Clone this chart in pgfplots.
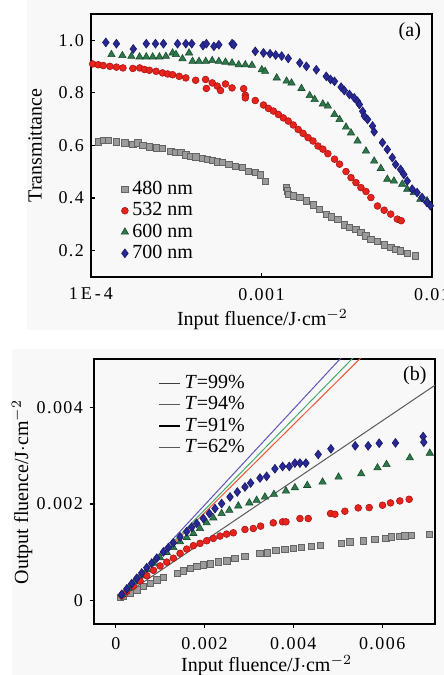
\documentclass[border=0pt]{standalone}
\usepackage{fontspec}
\setmainfont{Liberation Serif}
\newfontfamily\tickfont[LetterSpace=8]{Liberation Serif}
\usepackage{pgfplots}
\pgfplotsset{compat=1.18}

\definecolor{gfill}{RGB}{155,155,155}
\definecolor{gedge}{RGB}{100,100,100}
\definecolor{rfill}{RGB}{232,35,28}
\definecolor{redge}{RGB}{170,20,20}
\definecolor{tfill}{RGB}{46,120,75}
\definecolor{tedge}{RGB}{25,75,45}
\definecolor{bfill}{RGB}{40,40,150}
\definecolor{bedge}{RGB}{25,25,100}
\definecolor{lblue}{RGB}{95,85,185}
\definecolor{lgreen}{RGB}{70,170,110}
\definecolor{lred}{RGB}{240,85,55}
\definecolor{lgray}{RGB}{90,90,90}
\definecolor{pagebg}{RGB}{248,248,248}

\pgfplotsset{
  s480/.style={only marks,mark=square*,mark size=1.6pt,fill=gfill,draw=gedge,line width=0.3pt},
  s532/.style={only marks,mark=*,mark size=1.7pt,fill=rfill,draw=redge,line width=0.3pt},
  s600/.style={only marks,mark=triangle*,mark size=2.1pt,fill=tfill,draw=tedge,line width=0.3pt},
  s700/.style={only marks,mark=diamond*,mark size=2.2pt,fill=bfill,draw=bedge,line width=0.3pt},
  panel/.style={
    scale only axis,width=170.5pt,
    axis line style={line width=0.7pt},
    tick pos=left,major tick length=2pt,
    scaled ticks=false,minor tick num=0,
    tick style={line width=0.6pt,black},
    tick label style={font=\fontsize{9}{10}\tickfont},
    label style={font=\fontsize{10}{11}\selectfont},
    legend style={draw=none,fill=none,font=\fontsize{10}{11}\selectfont,
      nodes={inner xsep=1.9pt,inner ysep=0.6pt},row sep=1.3pt},
    legend cell align=left,
  }
}

\begin{document}
\begin{tikzpicture}
\path[use as bounding box] (0,0) rectangle (222pt,337.5pt);
\fill[pagebg] (13.5pt,172.5pt) rectangle (222pt,337.5pt);
\fill[pagebg] (6pt,0pt) rectangle (222pt,163pt);

% (a) transmittance versus input fluence
\begin{axis}[panel,
    at={(45.5pt,199pt)},anchor=south west,height=131.5pt,
    xmode=log,xmin=1e-4,xmax=1e-2,ymin=0.1,ymax=1.1,
    xminorticks=false,
    tick align=inside,
    xtick={1e-4,1e-3,1e-2},xticklabels={1\,E\,-\,4,0.001,0.01},
    xticklabel style={yshift=-2pt},
    ytick={0.2,0.4,0.6,0.8,1.0},
    yticklabels={0.2,0.4,0.6,0.8,1.0},
    xlabel={Input fluence/J$\cdot$cm$^{-2}$},
    ylabel={Transmittance},
    xlabel style={at={(axis description cs:0.503,-0.163)},anchor=center},
    ylabel style={at={(axis description cs:-0.164,0.5)},anchor=center},
    legend style={at={(0.07,0.385)},anchor=north west},
]
\addplot[s480] coordinates {
(1.103e-4,0.614) (1.18e-4,0.619) (1.261e-4,0.619) (1.41e-4,0.614) (1.577e-4,0.611)
(1.76e-4,0.604) (1.884e-4,0.611) (2.01e-4,0.600) (2.20e-4,0.595) (2.41e-4,0.592)
(2.63e-4,0.589) (2.94e-4,0.579) (3.15e-4,0.575) (3.37e-4,0.573) (3.60e-4,0.564)
(3.85e-4,0.560) (4.11e-4,0.557) (4.50e-4,0.551) (4.81e-4,0.547) (5.14e-4,0.543)
(5.50e-4,0.538) (5.88e-4,0.535) (6.43e-4,0.528) (7.03e-4,0.522) (7.69e-4,0.516)
(8.40e-4,0.503) (9.19e-4,0.497) (9.82e-4,0.488) (1.05e-3,0.465) (1.40e-3,0.442)
(1.42e-3,0.427) (1.435e-3,0.414) (1.535e-3,0.408) (1.678e-3,0.402) (1.834e-3,0.389)
(2.005e-3,0.374) (2.19e-3,0.357) (2.398e-3,0.339) (2.56e-3,0.329) (2.80e-3,0.320)
(3.06e-3,0.298) (3.28e-3,0.288) (3.58e-3,0.282) (3.83e-3,0.269) (4.10e-3,0.257)
(4.38e-3,0.244) (4.79e-3,0.235) (5.24e-3,0.222) (5.73e-3,0.212) (6.12e-3,0.206)
(6.54e-3,0.200) (7.16e-3,0.191) (8.0e-3,0.181)
};
\addlegendentry{480 nm}
\addplot[s532] coordinates {
(1.022e-4,0.910) (1.103e-4,0.907) (1.18e-4,0.904) (1.29e-4,0.901) (1.41e-4,0.898)
(1.54e-4,0.895) (1.76e-4,0.893) (1.93e-4,0.895) (2.06e-4,0.889) (2.20e-4,0.886)
(2.41e-4,0.882) (2.63e-4,0.876) (2.82e-4,0.872) (3.01e-4,0.869) (3.29e-4,0.863)
(3.60e-4,0.857) (4.11e-4,0.848) (4.70e-4,0.851) (4.75e-4,0.817) (5.14e-4,0.838)
(5.50e-4,0.826) (5.75e-4,0.809) (6.15e-4,0.834) (6.72e-4,0.819) (7.86e-4,0.816)
(8.04e-4,0.791) (8.04e-4,0.781) (9.19e-4,0.771) (1.027e-3,0.754) (1.098e-3,0.741)
(1.174e-3,0.731) (1.256e-3,0.718) (1.343e-3,0.705) (1.435e-3,0.693) (1.535e-3,0.678)
(1.641e-3,0.661) (1.754e-3,0.646) (1.876e-3,0.630) (2.005e-3,0.617) (2.144e-3,0.598)
(2.29e-3,0.586) (2.45e-3,0.569) (2.68e-3,0.548) (2.87e-3,0.529) (3.13e-3,0.501)
(3.35e-3,0.478) (3.58e-3,0.459) (3.83e-3,0.440) (4.10e-3,0.425) (4.38e-3,0.402)
(4.79e-3,0.370) (5.24e-3,0.354) (5.73e-3,0.339) (6.26e-3,0.320) (6.60e-3,0.314)
};
\addlegendentry{532 nm}
\addplot[s600] coordinates {
(1.318e-4,0.946) (1.528e-4,0.942) (1.724e-4,0.939) (1.927e-4,0.937) (2.11e-4,0.937)
(2.30e-4,0.937) (2.52e-4,0.937) (2.75e-4,0.939) (3.01e-4,0.952) (3.15e-4,0.946)
(3.44e-4,0.930) (3.76e-4,0.952) (3.94e-4,0.920) (4.30e-4,0.920) (4.71e-4,0.920)
(5.14e-4,0.923) (5.62e-4,0.920) (6.15e-4,0.917) (6.72e-4,0.914) (7.35e-4,0.907)
(8.04e-4,0.907) (8.79e-4,0.905) (1.004e-3,0.888) (1.05e-3,0.882) (1.228e-3,0.857)
(1.403e-3,0.845) (1.50e-3,0.838) (1.716e-3,0.817) (1.918e-3,0.790) (2.05e-3,0.775)
(2.29e-3,0.758) (2.45e-3,0.750) (2.68e-3,0.718) (2.87e-3,0.699) (3.13e-3,0.670)
(3.35e-3,0.648) (3.66e-3,0.617) (4.10e-3,0.579) (4.58e-3,0.541) (5.01e-3,0.513)
(5.47e-3,0.472) (5.98e-3,0.465) (6.69e-3,0.453) (7.16e-3,0.434) (7.82e-3,0.421)
(8.55e-3,0.396) (9.35e-3,0.390)
};
\addlegendentry{600 nm}
\addplot[s700] coordinates {
(1.222e-4,0.992) (1.41e-4,0.987) (1.77e-4,0.967) (2.11e-4,0.987) (2.39e-4,0.987)
(2.66e-4,0.987) (3.22e-4,0.987) (3.60e-4,0.987) (3.90e-4,0.987) (4.54e-4,0.980)
(4.75e-4,0.987) (5.26e-4,0.977) (5.62e-4,0.983) (6.72e-4,0.987) (6.88e-4,0.983)
(9.19e-4,0.958) (1.027e-3,0.952) (1.122e-3,0.949) (1.211e-3,0.944) (1.313e-3,0.940)
(1.435e-3,0.931) (1.678e-3,0.914) (1.834e-3,0.901) (2.097e-3,0.888) (2.398e-3,0.863)
(2.541e-3,0.851) (2.68e-3,0.844) (2.93e-3,0.822) (3.06e-3,0.809) (3.28e-3,0.794)
(3.50e-3,0.781) (3.66e-3,0.768) (3.75e-3,0.756) (3.92e-3,0.730) (4.01e-3,0.712)
(4.19e-3,0.699) (4.48e-3,0.674) (4.58e-3,0.652) (5.12e-3,0.611) (5.47e-3,0.585)
(5.85e-3,0.554) (6.12e-3,0.528) (6.54e-3,0.509) (6.84e-3,0.490) (7.16e-3,0.465)
(7.65e-3,0.434) (8.18e-3,0.421) (8.75e-3,0.402) (9.35e-3,0.383) (9.78e-3,0.371)
};
\addlegendentry{700 nm}
\node[font=\fontsize{10}{11}\selectfont] at (rel axis cs:0.935,0.932) {(a)};
\end{axis}

% (b) output fluence versus input fluence
\begin{axis}[panel,
    at={(47pt,25.5pt)},anchor=south west,height=132.5pt,
    xmin=-0.00049,xmax=0.00719,ymin=-0.00048,ymax=0.005,
    tick align=outside,
    xtick={0,0.002,0.004,0.006},xticklabels={0,0.002,0.004,0.006},
    xticklabel style={yshift=-1.3pt},
    ytick={0,0.002,0.004},yticklabels={0,0.002,0.004},
    xlabel={Input fluence/J$\cdot$cm$^{-2}$},
    ylabel={Output fluence/J$\cdot$cm$^{-2}$},
    xlabel style={at={(axis description cs:0.506,-0.156)},anchor=center},
    ylabel style={at={(axis description cs:-0.211,0.498)},anchor=center},
    legend style={at={(0.17,0.96)},anchor=north west},
    legend image code/.code={\draw[#1] (0cm,0cm) -- (0.37cm,0cm);},
]
\addlegendimage{lgray!70!black,line width=0.7pt}
\addlegendentry{\textit{T}=99\%}
\addlegendimage{lgray,line width=0.6pt}
\addlegendentry{\textit{T}=94\%}
\addlegendimage{black,line width=0.7pt}
\addlegendentry{\textit{T}=91\%}
\addlegendimage{lgray,line width=0.6pt}
\addlegendentry{\textit{T}=62\%}
\addplot[lblue,line width=0.5pt,forget plot] coordinates {(0.0001,0.000099) (0.0055,0.005445)};
\addplot[lgreen,line width=0.5pt,forget plot] coordinates {(0.0001,0.000094) (0.0058,0.005452)};
\addplot[lred,line width=0.5pt,forget plot] coordinates {(0.0001,0.000091) (0.0060,0.00546)};
\addplot[lgray,line width=0.5pt,forget plot] coordinates {(0.0001,0.000062) (0.0075,0.00465)};
\addplot[s480,forget plot] coordinates {
(1.0e-4,7.0e-5) (1.73e-4,8.9e-5) (3.23e-4,1.58e-4) (4.73e-4,2.26e-4) (6.23e-4,2.95e-4)
(7.73e-4,3.64e-4) (9.23e-4,4.32e-4) (1.073e-3,4.87e-4) (1.388e-3,5.69e-4) (1.523e-3,6.24e-4)
(1.673e-3,6.72e-4) (1.823e-3,7.07e-4) (1.973e-3,7.41e-4) (2.123e-3,7.61e-4) (2.31e-3,8.09e-4)
(2.498e-3,8.3e-4) (2.685e-3,8.78e-4) (2.91e-3,9.26e-4) (3.248e-3,9.81e-4) (3.413e-3,9.95e-4)
(3.608e-3,1.05e-3) (3.81e-3,1.063e-3) (3.998e-3,1.084e-3) (4.185e-3,1.104e-3) (4.41e-3,1.132e-3)
(4.613e-3,1.152e-3) (5.085e-3,1.187e-3) (5.273e-3,1.221e-3) (5.573e-3,1.242e-3) (5.835e-3,1.269e-3)
(6.083e-3,1.29e-3) (6.21e-3,1.324e-3) (6.398e-3,1.338e-3) (6.51e-3,1.345e-3) (6.66e-3,1.351e-3)
(7.058e-3,1.379e-3)
};
\addplot[s532,forget plot] coordinates {
(1.35e-4,1.1e-4) (2.48e-4,1.95e-4) (3.98e-4,3.0e-4) (5.48e-4,4.1e-4) (6.98e-4,5.2e-4)
(8.48e-4,6.3e-4) (9.98e-4,7.2e-4) (1.148e-3,8.0e-4) (1.298e-3,8.8e-4) (1.448e-3,9.81e-4)
(1.598e-3,1.07e-3) (1.748e-3,1.139e-3) (1.898e-3,1.187e-3) (2.048e-3,1.242e-3) (2.198e-3,1.29e-3)
(2.348e-3,1.338e-3) (2.498e-3,1.379e-3) (2.648e-3,1.406e-3) (2.91e-3,1.475e-3) (3.098e-3,1.495e-3)
(3.263e-3,1.544e-3) (3.548e-3,1.612e-3) (3.758e-3,1.633e-3) (3.833e-3,1.633e-3) (4.148e-3,1.701e-3)
(4.335e-3,1.701e-3) (4.838e-3,1.804e-3) (4.935e-3,1.79e-3) (5.16e-3,1.852e-3) (5.46e-3,1.921e-3)
(5.708e-3,1.928e-3) (6.008e-3,1.976e-3) (6.188e-3,2.024e-3) (6.398e-3,2.065e-3) (6.608e-3,2.099e-3)
};
\addplot[s600,forget plot] coordinates {
(1.4e-4,1.3e-4) (2.8e-4,2.6e-4) (4.2e-4,3.9e-4) (5.6e-4,5.2e-4) (6.98e-4,6.4e-4)
(8.48e-4,7.75e-4) (9.98e-4,8.9e-4) (1.148e-3,1.0e-3) (1.298e-3,1.1e-3) (1.448e-3,1.221e-3)
(1.598e-3,1.31e-3) (1.748e-3,1.393e-3) (1.898e-3,1.495e-3) (2.048e-3,1.612e-3) (2.198e-3,1.715e-3)
(2.385e-3,1.804e-3) (2.558e-3,1.873e-3) (2.76e-3,1.962e-3) (3.008e-3,2.024e-3) (3.173e-3,2.079e-3)
(3.36e-3,2.147e-3) (3.563e-3,2.202e-3) (3.833e-3,2.271e-3) (4.035e-3,2.339e-3) (4.313e-3,2.387e-3)
(4.658e-3,2.456e-3) (5.018e-3,2.559e-3) (5.528e-3,2.627e-3) (5.895e-3,2.751e-3) (6.098e-3,2.819e-3)
(6.623e-3,2.957e-3) (7.073e-3,3.053e-3)
};
\addplot[s700,forget plot] coordinates {
(1.35e-4,1.33e-4) (2.48e-4,2.45e-4) (3.6e-4,3.55e-4) (4.73e-4,4.65e-4) (5.85e-4,5.75e-4)
(6.98e-4,6.85e-4) (8.1e-4,7.8e-4) (9.23e-4,8.8e-4) (1.073e-3,1.01e-3) (1.185e-3,1.1e-3)
(1.298e-3,1.2e-3) (1.448e-3,1.32e-3) (1.598e-3,1.43e-3) (1.71e-3,1.52e-3) (1.823e-3,1.6e-3)
(1.973e-3,1.701e-3) (2.108e-3,1.804e-3) (2.235e-3,1.907e-3) (2.385e-3,2.01e-3) (2.573e-3,2.147e-3)
(2.738e-3,2.25e-3) (2.91e-3,2.353e-3) (3.038e-3,2.435e-3) (3.248e-3,2.538e-3) (3.398e-3,2.573e-3)
(3.585e-3,2.73e-3) (3.758e-3,2.778e-3) (3.908e-3,2.778e-3) (4.035e-3,2.847e-3) (4.148e-3,2.847e-3)
(4.283e-3,2.847e-3) (4.56e-3,3.025e-3) (4.845e-3,3.142e-3) (5.393e-3,3.204e-3) (5.685e-3,3.204e-3)
(5.933e-3,3.259e-3) (6.30e-3,3.265e-3) (6.923e-3,3.396e-3) (6.938e-3,3.279e-3)
};
\node[font=\fontsize{10}{11}\selectfont] at (rel axis cs:0.941,0.936) {(b)};
\end{axis}
\end{tikzpicture}
\end{document}
